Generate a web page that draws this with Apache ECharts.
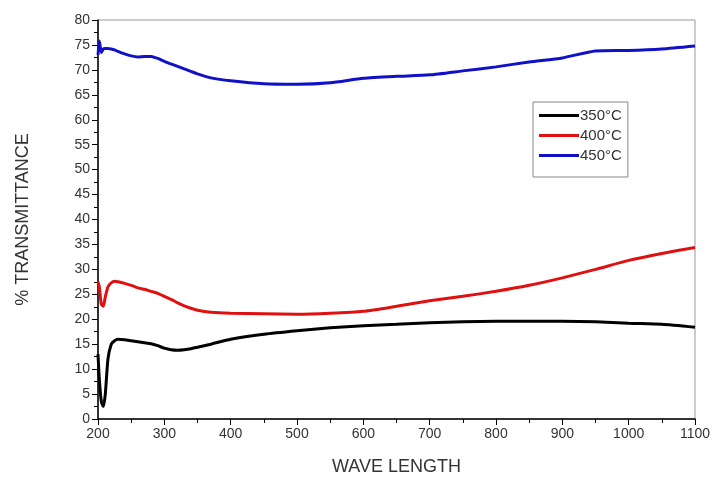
<!DOCTYPE html>
<html><head><meta charset="utf-8">
<script src="https://cdn.jsdelivr.net/npm/echarts@6/dist/echarts.min.js"></script>
<style>html,body{margin:0;padding:0;background:#fff}#c{width:716px;height:481px}</style>
</head><body><div id="c"></div>
<script>
const wavelength = [200,202,205,208,211,215,220,225,230,240,250,260,270,280,290,300,310,320,330,340,350,370,400,450,500,550,600,650,700,750,800,850,900,950,1000,1050,1100];
const t350 = [13,8,3.5,2.5,5,12,15,15.7,16,15.9,15.7,15.5,15.3,15.1,14.7,14.2,13.9,13.8,13.9,14.1,14.4,15.0,16.0,17.0,17.7,18.3,18.7,19.0,19.3,19.5,19.6,19.6,19.6,19.5,19.2,19.0,18.4];
const t400 = [27.5,26.5,23,22.6,24.5,26.5,27.3,27.6,27.5,27.2,26.8,26.3,26.0,25.6,25.2,24.6,24.0,23.3,22.7,22.2,21.8,21.4,21.2,21.1,21.0,21.2,21.6,22.6,23.7,24.6,25.6,26.8,28.3,30.0,31.8,33.2,34.4];
const t450 = [73,75.8,73.5,74.2,74.3,74.3,74.2,74,73.7,73.2,72.8,72.6,72.7,72.7,72.3,71.7,71.2,70.7,70.2,69.7,69.2,68.4,67.8,67.2,67.1,67.4,68.3,68.7,69.0,69.8,70.6,71.6,72.4,73.8,73.9,74.2,74.8];
const seriesNames = ['350°C','400°C','450°C'];
const seriesColors = ['#000000','#e01010','#1010c8'];
const seriesValues = [t350,t400,t450];

const chart = echarts.init(document.getElementById('c'));
const font = 'Liberation Sans, Arial, sans-serif';
chart.setOption({
  animation:false,
  backgroundColor:'#fff',
  grid:{left:98,right:21,top:20,bottom:61,show:true,borderColor:'#999',borderWidth:1},
  legend:{
    left:533, top:102, orient:'vertical', itemWidth:40, itemHeight:3, itemGap:5,
    icon:'rect', borderColor:'#888', borderWidth:1, padding:[6,6,14,6],
    textStyle:{fontFamily:font,fontSize:15,color:'#333',padding:[0,0,0,-4]},
    data:seriesNames
  },
  xAxis:{
    type:'value', min:200, max:1100, interval:100,
    name:'WAVE LENGTH', nameLocation:'middle', nameGap:39,
    nameTextStyle:{fontFamily:font,fontSize:18,color:'#333'},
    axisLine:{lineStyle:{color:'#000',width:1.5}},
    axisTick:{show:true,inside:false,length:6,lineStyle:{color:'#000'}},
    minorTick:{show:true,splitNumber:2,length:4,lineStyle:{color:'#000'}},
    axisLabel:{fontFamily:font,fontSize:14,color:'#333',margin:8,formatter:v=>String(v)},
    splitLine:{show:false}
  },
  yAxis:{
    type:'value', min:0, max:80, interval:5,
    name:'% TRANSMITTANCE', nameLocation:'middle', nameGap:66,
    nameTextStyle:{fontFamily:font,fontSize:18,color:'#333'},
    axisLine:{lineStyle:{color:'#000',width:1.5}},
    axisTick:{show:true,inside:false,length:6,lineStyle:{color:'#000'}},
    minorTick:{show:true,splitNumber:2,length:4,lineStyle:{color:'#000'}},
    axisLabel:{fontFamily:font,fontSize:14,color:'#333',margin:8},
    splitLine:{show:false}
  },
  series: seriesNames.map((n,i)=>({
    name:n, type:'line', smooth:0.2, showSymbol:false, symbol:'none',
    data: wavelength.map((x,j)=>[x, seriesValues[i][j]]),
    lineStyle:{color:seriesColors[i],width:3},
    itemStyle:{color:seriesColors[i]}
  }))
});
</script></body></html>
